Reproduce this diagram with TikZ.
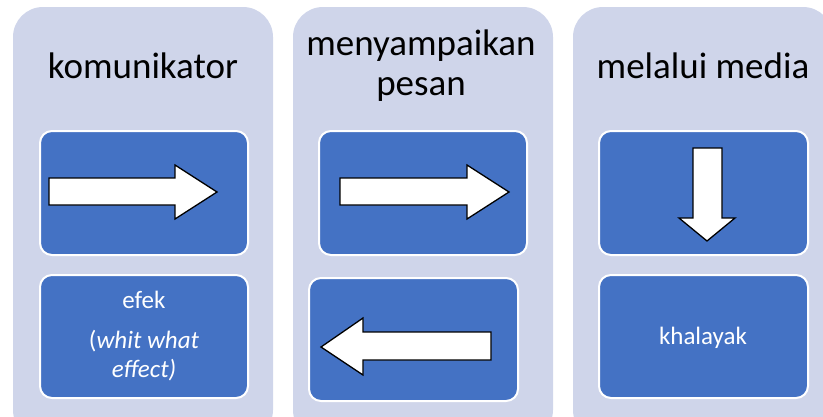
\documentclass[tikz,border=0pt]{standalone}
\usepackage{fontspec}
\setmainfont{Carlito}
\definecolor{lav}{HTML}{CFD5EA}
\definecolor{accblue}{HTML}{4472C4}
\begin{document}
\begin{tikzpicture}[x=1pt,y=-1pt,
  panel/.style={fill=lav, draw=none, rounded corners=30pt},
  inner/.style={fill=accblue, draw=white, line width=2pt, rounded corners=12pt},
  bigarrow/.style={fill=white, draw=black, line width=1.3pt, line join=miter},
  title/.style={font=\fontsize{37}{40}\selectfont, align=center, text=black, anchor=base},
  label/.style={font=\fontsize{25}{29}\selectfont, align=center, text=white, anchor=base}]
\useasboundingbox (0,0) rectangle (823,416);
\clip (0,0) rectangle (823,416);
% panels
\draw[panel] (13,7) rectangle (273,440);
\draw[panel] (293,7) rectangle (553,440);
\draw[panel] (573,7) rectangle (833,440);
% inner boxes
\draw[inner] (40,131) rectangle (248,255);
\draw[inner] (40,275) rectangle (248,398);
\draw[inner] (319,131) rectangle (527,255);
\draw[inner] (309,278) rectangle (518,401);
\draw[inner] (599,131) rectangle (808,255);
\draw[inner] (599,275) rectangle (808,398);
% titles
\node[title] (t1) at (143,78) {komunikator};
\node[title] (t2) at (421,95) {menyampaikan\\pesan};
\node[title] (t3) at (703,78) {melalui media};
% labels
\node[label] (l1) at (144,308) {efek};
\node[label] (l2) at (144,377) {(\textit{whit what}\\\textit{effect)}};
\node[label] (l3) at (703,344) {khalayak};
% arrows
\draw[bigarrow] (49,178) -- (175,178) -- (175,165) -- (217,192) -- (175,219) -- (175,205) -- (49,205) -- cycle;
\draw[bigarrow] (340,178) -- (467,178) -- (467,165) -- (509,192) -- (467,219) -- (467,205) -- (340,205) -- cycle;
\draw[bigarrow] (491,332) -- (363,332) -- (363,318) -- (321,347) -- (363,375) -- (363,360) -- (491,360) -- cycle;
\draw[bigarrow] (693,148) -- (722,148) -- (722,218) -- (735,218) -- (707,241) -- (679,218) -- (693,218) -- cycle;
\end{tikzpicture}
\end{document}
